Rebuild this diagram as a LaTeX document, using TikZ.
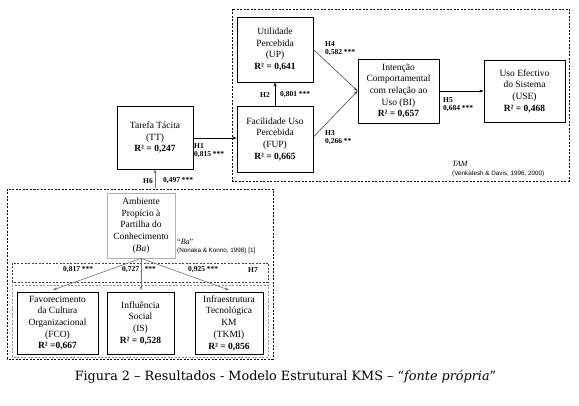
\documentclass[tikz,border=0pt]{standalone}
\usepackage{fontspec}
\setmainfont{Liberation Serif}
\newfontfamily\smallsans{Liberation Sans}
\newfontfamily\capserif{DejaVu Serif}
\usetikzlibrary{arrows.meta}
\begin{document}
\begin{tikzpicture}[x=1pt,y=-1pt,
  box/.style={draw, line width=0.9pt, rectangle, align=center, inner sep=1pt,
    font=\fontsize{9.5}{11.7}\selectfont},
  graybox/.style={box, draw=black!30, line width=0.7pt},
  lbl/.style={font=\bfseries\fontsize{7.5}{8}\selectfont, anchor=west, inner sep=0pt},
  ref/.style={font=\smallsans\fontsize{6.3}{7}\selectfont, anchor=west, inner sep=0pt},
  arr/.style={-{Stealth[length=4pt,width=3pt]}, line width=0.6pt},
  garr/.style={arr, draw=black!55},
  region/.style={dash pattern=on 2pt off 1.5pt, line width=0.6pt},
]
\useasboundingbox (0,0) rectangle (579,406);
\fill[white] (0,0) rectangle (579,406);

% dashed regions
\draw[region] (232,9) rectangle (569,181);
\draw[region] (7,189) rectangle (273,359);
\draw[region, draw=black!75] (12,263) rectangle (268,282);
\draw[region, draw=black!45] (12,285) rectangle (268,357);

% TAM boxes
\node[box, minimum width=76pt, minimum height=65pt] (up) at (275,49.5)
  {Utilidade\\Percebida\\(UP)\\\textbf{R² = 0,641}};
\node[box, minimum width=76pt, minimum height=66pt] (fup) at (275,139)
  {Facilidade Uso\\Percebida\\(FUP)\\\textbf{R² = 0,665}};
\node[box, minimum width=81pt, minimum height=64pt] (bi) at (398.5,91)
  {Intenção\\Comportamental\\com relação ao\\Uso (BI)\\\textbf{R² = 0,657}};
\node[box, minimum width=81pt, minimum height=62pt] (use) at (524.5,91)
  {Uso Efectivo\\do Sistema\\(USE)\\\textbf{R² = 0,468}};
\node[box, minimum width=76pt, minimum height=63pt] (tt) at (155,137.5)
  {Tarefa Tácita\\(TT)\\\textbf{R² = 0,247}};

% Ba boxes
\node[graybox, minimum width=68pt, minimum height=65pt] (amb) at (141,225.5)
  {Ambiente\\Propício à\\Partilha do\\Conhecimento\\(\textit{Ba})};
\node[box, minimum width=81pt, minimum height=62pt] (fco) at (57.5,323)
  {Favorecimento\\da Cultura\\Organizacional\\(FCO)\\\textbf{R² =0,667}};
\node[box, minimum width=67pt, minimum height=62pt] (is) at (140.5,323)
  {Influência\\Social\\(IS)\\\textbf{R² = 0,528}};
\node[box, minimum width=68pt, minimum height=62pt] (tkmi) at (229,323)
  {Infraestrutura\\Tecnológica\\KM\\(TKMI)\\\textbf{R² = 0,856}};

% connectors
\draw[arr] (fup.north) -- (up.south);
\draw[arr, draw=black!70] (up.east) -- (bi.west);
\draw[arr, draw=black!70] (fup.east |- 0,137) -- (bi.west);
\draw[arr] (bi.east) -- (use.west);
\draw[arr] (tt.east |- 0,138) -- (fup.west |- 0,138);
\coordinate (h6s) at (155,188);
\draw[garr] (h6s) -- (tt.south);
\coordinate (fcoin) at (53,290);
\coordinate (isin) at (141,290);
\coordinate (tkin) at (229,290);
\draw[garr] (amb.south) -- (fcoin);
\draw[garr] (amb.south) -- (isin);
\draw[garr] (amb.south) -- (tkin);

% labels
\node[lbl] (h4) at (325,44) {H4};
\node[lbl] (h4v) at (325,53) {0,582 ***};
\node[lbl] (h2) at (260,95) {H2};
\node[lbl] (h2v) at (280,95) {0,801 ***};
\node[lbl] (h3) at (325,133) {H3};
\node[lbl] (h3v) at (325,142) {0,266 **};
\node[lbl] (h5) at (443,100) {H5};
\node[lbl] (h5v) at (443,109) {0,684 ***};
\node[lbl] (h1) at (194,146) {H1};
\node[lbl] (h1v) at (194,155) {0,815 ***};
\node[lbl] (h6) at (143,181) {H6};
\node[lbl] (h6v) at (163,181) {0,497 ***};
\node[lbl] (b1) at (63,270) {0,817 ***};
\node[lbl] (b2) at (122,270) {0,727 \ \ ***};
\node[lbl] (b3) at (188,270) {0,925 ***};
\node[lbl] (h7) at (248,270) {H7};

\node[anchor=west, inner sep=0pt, font=\itshape\fontsize{8}{9}\selectfont] (tam) at (452,164) {TAM};
\node[ref] (venk) at (452,174) {(Venkatesh \& Davis, 1996, 2000)};
\node[anchor=west, inner sep=0pt, font=\fontsize{8}{9}\selectfont] (ba) at (177,242) {“\textit{Ba}”};
\node[ref] (nonaka) at (177,251) {(Nonaka \& Konno, 1998) [1]};

% caption
\node[inner sep=0pt, font=\capserif\fontsize{12.8}{14}\selectfont] (cap) at (285.5,377)
  {Figura 2 – Resultados - Modelo Estrutural KMS – “\textit{fonte própria}”};
\end{tikzpicture}
\end{document}
